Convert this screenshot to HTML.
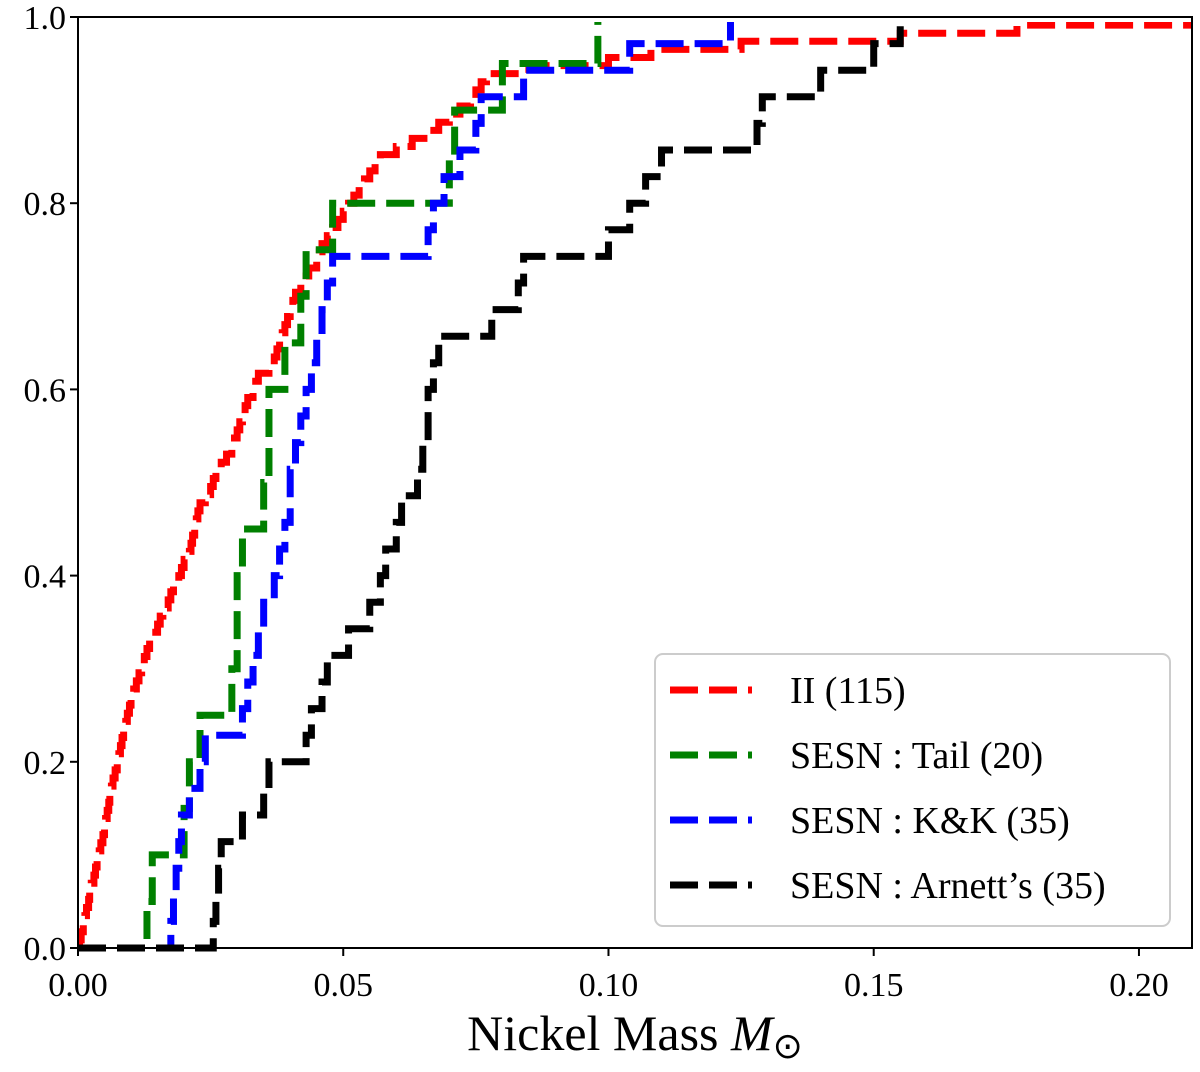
<!DOCTYPE html>
<html><head><meta charset="utf-8"><style>
body{margin:0;background:#fff}
svg{display:block;font-family:"Liberation Serif",serif}
</style></head><body>
<svg id="chart" width="1200" height="1072" viewBox="0 0 1200 1072">
<defs><clipPath id="plotclip"><rect x="78" y="22" width="1114" height="940"/></clipPath></defs>
<g id="series" clip-path="url(#plotclip)"></g>
<rect x="78" y="17" width="1114" height="931" fill="none" stroke="#000" stroke-width="2"/>
<g id="axes"></g>
<text x="635" y="1050" font-size="50" text-anchor="middle">Nickel Mass <tspan font-style="italic">M</tspan><tspan font-size="36" dy="8">⊙</tspan></text>
<g>
<rect x="655" y="654" width="515" height="272" rx="8" fill="#fff" stroke="#ccc" stroke-width="2"/>
<g id="legend"></g>
</g>
</svg>
<script>
const xTicks=[0,0.05,0.10,0.15,0.20];
const xTickLabels=["0.00","0.05","0.10","0.15","0.20"];
const yTicks=[0,0.2,0.4,0.6,0.8,1.0];
const yTickLabels=["0.0","0.2","0.4","0.6","0.8","1.0"];
const seriesNames=["II (115)","SESN : Tail (20)","SESN : K&K (35)","SESN : Arnett’s (35)"];
const seriesColors=["#ff0000","#008000","#0000ff","#000000"];
const redValues=[0.0003,0.0006,0.001,0.0013,0.0016,0.002,0.0022,0.0025,0.003,0.0033,0.0036,0.004,0.0043,0.0047,0.005,0.0052,0.0055,0.0058,0.006,0.0063,0.0066,0.007,0.0074,0.0077,0.008,0.0083,0.0086,0.009,0.0093,0.0097,0.010,0.0105,0.011,0.0115,0.012,0.0125,0.013,0.0135,0.014,0.015,0.0155,0.016,0.017,0.0175,0.018,0.019,0.0195,0.020,0.021,0.0213,0.0216,0.022,0.0223,0.0226,0.023,0.024,0.025,0.0255,0.026,0.027,0.028,0.029,0.0295,0.030,0.0305,0.031,0.0315,0.032,0.033,0.0335,0.034,0.036,0.037,0.0375,0.038,0.0385,0.039,0.0395,0.040,0.0405,0.041,0.042,0.043,0.0435,0.045,0.0455,0.046,0.047,0.048,0.049,0.050,0.051,0.052,0.053,0.054,0.055,0.056,0.057,0.060,0.063,0.066,0.068,0.070,0.072,0.074,0.075,0.076,0.077,0.085,0.100,0.108,0.125,0.155,0.177,0.25];
const greenValues=[0.013,0.014,0.020,0.021,0.023,0.029,0.030,0.030,0.031,0.035,0.036,0.036,0.039,0.042,0.043,0.048,0.070,0.071,0.080,0.098];
const blueValues=[0.0175,0.018,0.0185,0.019,0.0195,0.021,0.023,0.024,0.031,0.032,0.033,0.034,0.035,0.037,0.038,0.039,0.040,0.040,0.041,0.042,0.043,0.044,0.045,0.046,0.047,0.048,0.066,0.067,0.069,0.072,0.075,0.076,0.084,0.104,0.123];
const blackValues=[0.0255,0.026,0.0265,0.027,0.031,0.035,0.036,0.043,0.044,0.046,0.047,0.051,0.055,0.057,0.058,0.060,0.061,0.064,0.065,0.066,0.066,0.067,0.068,0.078,0.083,0.084,0.100,0.104,0.107,0.110,0.128,0.129,0.140,0.150,0.155];

const NS="http://www.w3.org/2000/svg";
const X0=78,X1=1192,XMAX=0.21,Y0=948,Y1=17;
const xs=v=>X0+v/XMAX*(X1-X0);
const ys=v=>Y0-v*(Y0-Y1);
function mk(tag,attrs,parent){const e=document.createElementNS(NS,tag);for(const k in attrs)e.setAttribute(k,attrs[k]);parent.appendChild(e);return e;}
const axes=document.getElementById('axes');
xTicks.forEach((t,i)=>{
  const l=mk('line',{x1:xs(t),x2:xs(t),y1:Y0,y2:Y0+8,stroke:'#000','stroke-width':2},axes);
  
  
  const tx=mk('text',{x:xs(t),y:Y0+48,'font-size':34,'text-anchor':'middle'},axes);
  tx.textContent=xTickLabels[i];
  
  
});
yTicks.forEach((t,i)=>{
  const l=mk('line',{x1:X0-8,x2:X0,y1:ys(t),y2:ys(t),stroke:'#000','stroke-width':2},axes);
  
  
  const tx=mk('text',{x:X0-12,y:ys(t)+12,'font-size':34,'text-anchor':'end'},axes);
  tx.textContent=yTickLabels[i];
  
  
});
const allSeries=[redValues,greenValues,blueValues,blackValues];
const seriesKeys=['series-ii','series-sesn-tail','series-sesn-kk','series-sesn-arnett'];
const g=document.getElementById('series');
allSeries.forEach((vals,si)=>{
  const s=[...vals].sort((a,b)=>a-b);const n=s.length;
  let d=`M${xs(0)},${ys(0)}`;
  s.forEach((v,k)=>{d+=` H${xs(v)} V${ys((k+1)/n)}`;});
  d+=` H${xs(0.3)}`;
  const p=mk('path',{d:d,fill:'none',stroke:seriesColors[si],'stroke-width':7,'stroke-dasharray':'28 11'},g);
  
  
});
const lg=document.getElementById('legend');
seriesNames.forEach((nm,i)=>{
  const y=690+i*65;
  const l=mk('line',{x1:670,x2:752,y1:y,y2:y,stroke:seriesColors[i],'stroke-width':7,'stroke-dasharray':'28 11'},lg);
  
  
  const t=mk('text',{x:790,y:y+13,'font-size':38},lg);
  t.textContent=nm;
  
  
});
</script>
</body></html>
